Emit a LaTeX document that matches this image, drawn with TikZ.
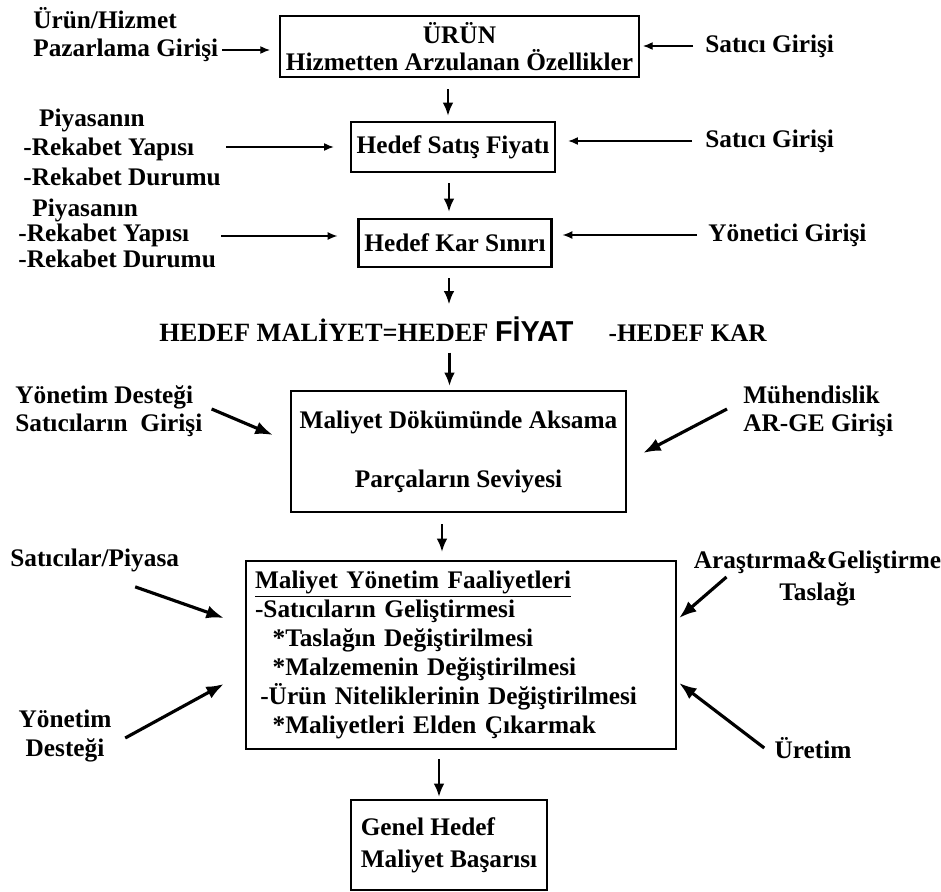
\documentclass[tikz,border=0pt]{standalone}
\usepackage{fontspec}
\setmainfont{Liberation Serif}
\newfontfamily\arialfont{Liberation Sans}
\usetikzlibrary{arrows.meta}
\usetikzlibrary{positioning}

\newcommand{\bfs}[1]{\fontsize{14.4}{#1}\selectfont\bfseries}

\begin{document}
\begin{tikzpicture}[x=0.02cm, y=-0.02cm,
  box/.style={draw, line width=1.3pt, align=center, font=\bfs{16.6}},
  lbl/.style={inner sep=0pt, align=left, font=\bfs{16.6}},
  inarr/.style={-{Latex[length=5.5pt,width=4.5pt]}, line width=0.7pt},
  downarr/.style={-{Latex[length=7.5pt,width=6pt]}, line width=1.2pt},
  diagarr/.style={-{Latex[length=10pt,width=7.5pt]}, line width=1.8pt}]
  \useasboundingbox (0,0) rectangle (941,892);

  % top: product and prices
  \node[box, minimum width=7.1cm, minimum height=1.22cm, font=\bfs{15.4}] (urun) at (459.5,46.5) {ÜRÜN\\Hizmetten Arzulanan Özellikler};
  \node[lbl, anchor=west] (uh) at (33,18) {Ürün/Hizmet};
  \node[lbl, anchor=west] (pg) at (33,50) {Pazarlama Girişi};
  \node[lbl, anchor=west] (sg1) at (705,46) {Satıcı Girişi};

  \node[box, minimum width=4.08cm, minimum height=1.0cm] (fiyat) at (453,147) {Hedef Satış Fiyatı};
  \node[lbl, anchor=west, font=\bfs{16.8}] (piy1) at (23,147) {\hspace*{9pt}Piyasanın\\-Rekabet Yapısı\\-Rekabet Durumu};
  \node[lbl, anchor=west] (sg2) at (705,141) {Satıcı Girişi};

  \node[box, minimum width=3.86cm, minimum height=0.96cm] (kar) at (455,243) {Hedef Kar Sınırı};
  \node[lbl, anchor=west, font=\bfs{14.5}] (piy2) at (18,233) {\hspace*{8pt}Piyasanın\\-Rekabet Yapısı\\-Rekabet Durumu};
  \node[lbl, anchor=west] (yg) at (708,235) {Yönetici Girişi};

  \node[lbl, anchor=west] (denk) at (159,329) {\fontsize{15}{16}\selectfont HEDEF MALİYET=HEDEF {\arialfont\fontsize{16.4}{17}\selectfont FİYAT}\hspace{20pt}{\bfs{16}-HEDEF KAR}};

  \draw[inarr, shorten <=0.08cm, shorten >=0.18cm] (pg.east) -- (pg.east -| urun.west);
  \draw[inarr, shorten <=0.24cm, shorten >=0.06cm] (sg1.west) -- (sg1.west -| urun.east);
  \draw[inarr, shorten <=0.1cm, shorten >=0.32cm] (piy1.east) -- (piy1.east -| fiyat.west);
  \draw[inarr, shorten <=0.26cm, shorten >=0.24cm] (sg2.west) -- (sg2.west -| fiyat.east);
  \draw[inarr, shorten <=0.1cm, shorten >=0.4cm] ([yshift=-0.06cm]piy2.east) -- ([yshift=-0.06cm]piy2.east -| kar.west);
  \draw[inarr, shorten <=0.22cm, shorten >=0.2cm] (yg.west) -- (yg.west -| kar.east);

  \draw[downarr, shorten <=0.22cm, shorten >=0.1cm] ([xshift=-0.1cm]fiyat.north |- urun.south) -- ([xshift=-0.1cm]fiyat.north);
  \draw[downarr, shorten <=0.2cm, shorten >=0.12cm] ([xshift=-0.12cm]kar.north |- fiyat.south) -- ([xshift=-0.12cm]kar.north);
  \draw[downarr, shorten <=0.2cm, shorten >=0.24cm] ([xshift=-0.12cm]kar.south) -- ([xshift=-0.12cm]kar.south |- denk.north);

  % middle: cost breakdown
  \node[box, minimum width=6.7cm, minimum height=2.42cm] (dokum) at (458.5,451.5) {Maliyet Dökümünde Aksama\\[17pt]Parçaların Seviyesi};
  \node[lbl, anchor=west, font=\bfs{16}] (yd) at (15,411) {Yönetim Desteği\\Satıcıların\ \ Girişi};
  \node[lbl, anchor=west, font=\bfs{16}] (mar) at (743,411) {Mühendislik\\AR-GE Girişi};

  \draw[downarr, shorten <=0.22cm, shorten >=0.08cm] ([xshift=-0.18cm]dokum.north |- denk.south) -- ([xshift=-0.18cm]dokum.north);
  \draw[diagarr] ([xshift=0.18cm,yshift=0.04cm]yd.east) -- ([xshift=-0.34cm,yshift=0.33cm]dokum.west);
  \draw[diagarr] ([xshift=-0.32cm,yshift=0.04cm]mar.west) -- ([xshift=0.32cm,yshift=-0.03cm]dokum.east);

  % bottom: cost management
  \node[box, align=left, text width=8.24cm, inner xsep=0.18cm, minimum height=3.76cm, font=\bfs{16.5}] (mfaal) at (461,655)
    {\underline{Maliyet Yönetim Faaliyetleri}\\
     -Satıcıların Geliştirmesi\\
     \hspace*{10pt}*Taslağın Değiştirilmesi\\
     \hspace*{10pt}*Malzemenin Değiştirilmesi\\
     \hspace*{3pt}-Ürün Niteliklerinin Değiştirilmesi\\
     \hspace*{10pt}*Maliyetleri Elden Çıkarmak};
  \node[lbl, anchor=west] (sp) at (10,560) {Satıcılar/Piyasa};
  \node[lbl, align=center, font=\bfs{16}] (yds) at (65,736) {Yönetim\\Desteği};
  \node[lbl, align=center, font=\bfs{18.2}] (ag) at (817.5,579) {Araştırma\&Geliştirme\\Taslağı};
  \node[lbl] (ur) at (813,748) {Üretim};

  \draw[downarr, shorten <=0.22cm, shorten >=0.16cm] ([xshift=-0.33cm]dokum.south) -- ([xshift=-0.33cm]dokum.south |- mfaal.north);
  \draw[diagarr] ([xshift=0.81cm,yshift=-0.3cm]sp.south) -- ([xshift=-0.42cm,yshift=0.74cm]mfaal.west);
  \draw[diagarr] ([xshift=0.27cm,yshift=-0.04cm]yds.east) -- ([xshift=-0.42cm,yshift=-0.58cm]mfaal.west);
  \draw[diagarr] ([xshift=0.66cm,yshift=0.04cm]ag.west) -- ([xshift=0.04cm,yshift=0.74cm]mfaal.east);
  \draw[diagarr] ([xshift=-0.2cm]ur.west) -- ([xshift=0.04cm,yshift=-0.56cm]mfaal.east);

  \node[box, align=left, minimum width=3.92cm, minimum height=1.8cm, font=\bfs{18.2}] (hedef) at (449,845) {Genel Hedef\\Maliyet Başarısı};
  \draw[downarr, shorten <=0.18cm, shorten >=0.04cm] ([xshift=-0.2cm]hedef.north |- mfaal.south) -- ([xshift=-0.2cm]hedef.north);

\end{tikzpicture}
\end{document}
